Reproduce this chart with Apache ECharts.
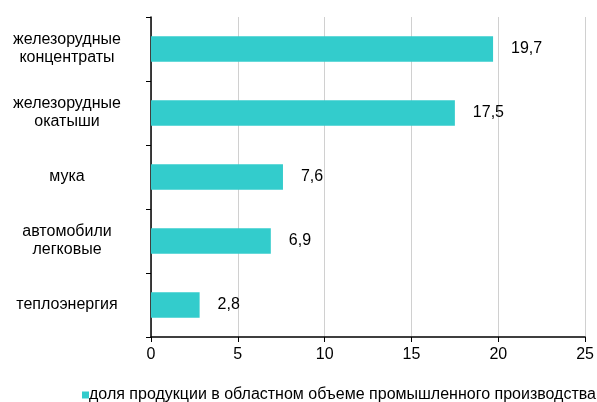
<!DOCTYPE html>
<html><head><meta charset="utf-8">
<script src="https://cdn.jsdelivr.net/npm/echarts@6/dist/echarts.min.js"></script>
<style>html,body{margin:0;padding:0;background:#fff}#c{width:597px;height:402px}</style>
</head><body><div id="c"></div>
<script>
const categories = ['железорудные\nконцентраты','железорудные\nокатыши','мука','автомобили\nлегковые','теплоэнергия'];
const values = [19.7, 17.5, 7.6, 6.9, 2.8];
const seriesName = 'доля продукции в областном объеме промышленного производства';
const xTicks = [0,5,10,15,20,25];

const chart = echarts.init(document.getElementById('c'), null, {renderer:'canvas'});
const font = 'Liberation Sans, Arial, sans-serif';
chart.setOption({
  animation:false,
  textStyle:{fontFamily:font},
  grid:{left:151, right:9, top:17, bottom:65, containLabel:false},
  xAxis:{type:'value', min:xTicks[0], max:xTicks[xTicks.length-1], interval:5,
    axisLine:{show:true, lineStyle:{color:'#000', width:1.5}},
    axisTick:{show:true, length:5, lineStyle:{color:'#000'}},
    axisLabel:{color:'#000', fontSize:16, fontFamily:font, margin:10},
    splitLine:{show:true, lineStyle:{color:'#d0d0d0', width:1}}},
  yAxis:{type:'category', data:categories, inverse:true,
    axisLine:{show:true, lineStyle:{color:'#000', width:1.5}},
    axisTick:{show:true, length:5, lineStyle:{color:'#000'}},
    axisLabel:{color:'#000', fontSize:16, fontFamily:font, align:'center', margin:84, lineHeight:18}},
  legend:{show:true, left:77, top:382, padding:5, itemWidth:7, itemHeight:7, itemGap:4,
    icon:'rect', textStyle:{fontSize:16, color:'#000', fontFamily:font, padding:[0,0,0,-5]}},
  series:[{type:'bar', name:seriesName, data:values, barWidth:'40%',
    itemStyle:{color:'#33CCCC'},
    label:{show:true, position:'right', distance:18, color:'#000', fontSize:16, fontFamily:font,
      formatter:p=>p.value.toFixed(1).replace('.',',')}}]
});
</script></body></html>
